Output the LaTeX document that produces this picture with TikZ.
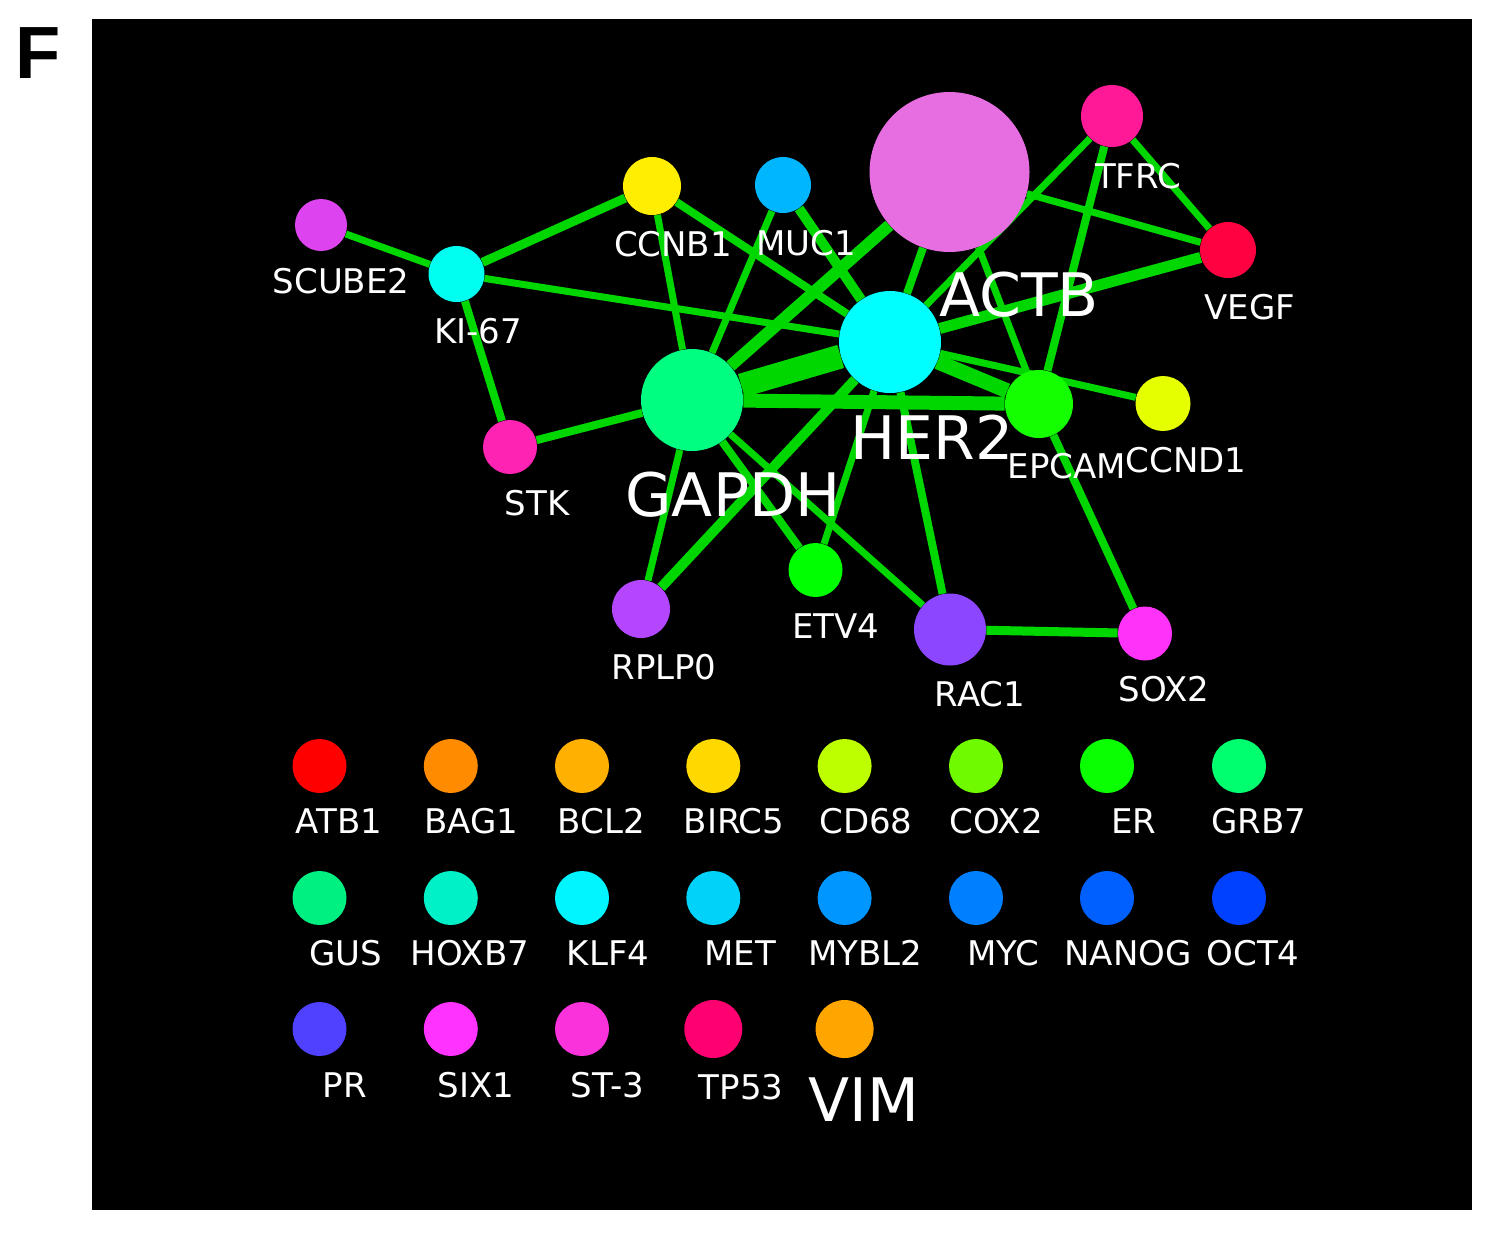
\documentclass[tikz,border=0pt]{standalone}
\usepackage{fontspec}
\setmainfont{DejaVu Sans}
\newfontfamily\panelfont{Liberation Sans}
\usetikzlibrary{backgrounds}

\definecolor{bondgreen}{RGB}{0,215,0}
% network nodes
\definecolor{cSCUBE}{RGB}{221,68,240}
\definecolor{cKI}{RGB}{0,255,240}
\definecolor{cCCNB}{RGB}{255,238,0}
\definecolor{cMUC}{RGB}{0,182,255}
\definecolor{cACTB}{RGB}{230,110,225}
\definecolor{cTFRC}{RGB}{255,25,150}
\definecolor{cVEGF}{RGB}{255,0,64}
\definecolor{cHER}{RGB}{0,255,255}
\definecolor{cGAPDH}{RGB}{0,255,128}
\definecolor{cEPCAM}{RGB}{20,255,0}
\definecolor{cCCND}{RGB}{230,255,0}
\definecolor{cSTK}{RGB}{255,35,180}
\definecolor{cRPLP}{RGB}{180,70,255}
\definecolor{cETV}{RGB}{0,255,0}
\definecolor{cRAC}{RGB}{140,70,255}
\definecolor{cSOX}{RGB}{255,50,250}
% legend
\definecolor{cATB}{RGB}{255,0,0}
\definecolor{cBAG}{RGB}{255,140,0}
\definecolor{cBCL}{RGB}{255,176,0}
\definecolor{cBIRC}{RGB}{255,216,0}
\definecolor{cCD}{RGB}{190,255,0}
\definecolor{cCOX}{RGB}{112,250,0}
\definecolor{cER}{RGB}{10,255,0}
\definecolor{cGRB}{RGB}{0,255,110}
\definecolor{cGUS}{RGB}{0,240,130}
\definecolor{cHOX}{RGB}{0,240,200}
\definecolor{cKLF}{RGB}{0,245,255}
\definecolor{cMET}{RGB}{0,210,250}
\definecolor{cMYBL}{RGB}{0,150,255}
\definecolor{cMYC}{RGB}{0,128,255}
\definecolor{cNANOG}{RGB}{0,96,255}
\definecolor{cOCT}{RGB}{0,64,255}
\definecolor{cPR}{RGB}{80,64,255}
\definecolor{cSIX}{RGB}{255,50,255}
\definecolor{cST}{RGB}{250,50,220}
\definecolor{cTP}{RGB}{255,0,112}
\definecolor{cVIM}{RGB}{255,165,0}

\begin{document}
\begin{tikzpicture}[x=0.5pt,y=-0.5pt,
  gene/.style={circle,inner sep=0pt,minimum size=#1},
  bond/.style={draw=bondgreen,line width=#1},
  lbl/.style={text=white,inner sep=0pt,font=\fontsize{17pt}{17pt}\selectfont},
  biglbl/.style={text=white,inner sep=0pt,font=\fontsize{30pt}{30pt}\selectfont}]
  \useasboundingbox (0,0) rectangle (1504,1233);
  \node[inner sep=0pt,font=\panelfont\bfseries\fontsize{37pt}{37pt}\selectfont] (panel) at (38.5,53.5) {F};

  % network
  \node[gene=26pt,fill=cSCUBE] (SCUBE2) at (321,225) {};
  \node[gene=28pt,fill=cKI] (KI67) at (456.5,274) {};
  \node[gene=29pt,fill=cCCNB] (CCNB1) at (652,186) {};
  \node[gene=28pt,fill=cMUC] (MUC1) at (783,185) {};
  \node[gene=80pt,fill=cACTB] (ACTB) at (949.5,172) {};
  \node[gene=31pt,fill=cTFRC] (TFRC) at (1112,116) {};
  \node[gene=28pt,fill=cVEGF] (VEGF) at (1228,250) {};
  \node[gene=51pt,fill=cHER] (HER2) at (890,342) {};
  \node[gene=51pt,fill=cGAPDH] (GAPDH) at (692,400) {};
  \node[gene=34pt,fill=cEPCAM] (EPCAM) at (1039,404) {};
  \node[gene=27.5pt,fill=cCCND] (CCND1) at (1163,403.5) {};
  \node[gene=27pt,fill=cSTK] (STK) at (510,447) {};
  \node[gene=29pt,fill=cRPLP] (RPLP0) at (641,609) {};
  \node[gene=27pt,fill=cETV] (ETV4) at (815.5,570) {};
  \node[gene=36pt,fill=cRAC] (RAC1) at (950,629.5) {};
  \node[gene=27pt,fill=cSOX] (SOX2) at (1145,633.5) {};

  \begin{scope}[on background layer]
    \fill[black] (92,19) rectangle (1472,1210);
    \draw[bond=3.5pt] (SCUBE2) -- (KI67);
    \draw[bond=4.5pt] (KI67) -- (CCNB1);
    \draw[bond=3.5pt] (KI67) -- (HER2);
    \draw[bond=4pt] (KI67) -- (STK);
    \draw[bond=4pt] (STK) -- (GAPDH);
    \draw[bond=3.5pt] (CCNB1) -- (GAPDH);
    \draw[bond=4pt] (CCNB1) -- (HER2);
    \draw[bond=3.5pt] (MUC1) -- (GAPDH);
    \draw[bond=5pt] (MUC1) -- (HER2);
    \draw[bond=6pt] (ACTB) -- (GAPDH);
    \draw[bond=4pt] (ACTB) -- (HER2);
    \draw[bond=3.5pt] (ACTB) -- (EPCAM);
    \draw[bond=3.5pt] (ACTB) -- (VEGF);
    \draw[bond=3.5pt] (TFRC) -- (HER2);
    \draw[bond=4pt] (TFRC) -- (EPCAM);
    \draw[bond=3.5pt] (TFRC) -- (VEGF);
    \draw[bond=5.5pt] (VEGF) -- (HER2);
    \draw[bond=12pt] (HER2) -- (GAPDH);
    \draw[bond=7pt] (GAPDH) -- (EPCAM);
    \draw[bond=7.5pt] (HER2) -- (EPCAM);
    \draw[bond=3.5pt] (HER2) -- (CCND1);
    \draw[bond=3.5pt] (HER2) -- (ETV4);
    \draw[bond=4pt] (HER2) -- (RAC1);
    \draw[bond=5pt] (HER2) -- (RPLP0);
    \draw[bond=3.5pt] (GAPDH) -- (RPLP0);
    \draw[bond=4pt] (GAPDH) -- (ETV4);
    \draw[bond=3.5pt] (GAPDH) -- (RAC1);
    \draw[bond=4pt] (EPCAM) -- (SOX2);
    \draw[bond=4.5pt] (RAC1) -- (SOX2);
  \end{scope}

  \node[lbl] (tSCUBE2) at (341,281) {SCUBE2};
  \node[lbl] (tKI67) at (478,331) {KI-67};
  \node[lbl] (tCCNB1) at (673,244) {CCNB1};
  \node[lbl] (tMUC1) at (806,243) {MUC1};
  \node[biglbl] (tACTB) at (1019,295) {ACTB};
  \node[lbl] (tTFRC) at (1138,176) {TFRC};
  \node[lbl] (tVEGF) at (1250,307) {VEGF};
  \node[biglbl] (tHER2) at (932,437) {HER2};
  \node[biglbl] (tGAPDH) at (733,495) {GAPDH};
  \node[lbl] (tEPCAM) at (1067,466) {EPCAM};
  \node[lbl] (tCCND1) at (1186,460) {CCND1};
  \node[lbl] (tSTK) at (537,503) {STK};
  \node[lbl] (tRPLP0) at (664,667) {RPLP0};
  \node[lbl] (tETV4) at (836,626) {ETV4};
  \node[lbl] (tRAC1) at (980,694) {RAC1};
  \node[lbl] (tSOX2) at (1164,689) {SOX2};

  % legend
  \node[gene=27pt,fill=cATB] (kATB1) at (319.5,766) {};
  \node[gene=27pt,fill=cBAG] (kBAG1) at (450.8,766) {};
  \node[gene=27pt,fill=cBCL] (kBCL2) at (582,766) {};
  \node[gene=27pt,fill=cBIRC] (kBIRC5) at (713.3,766) {};
  \node[gene=27pt,fill=cCD] (kCD68) at (844.6,766) {};
  \node[gene=27pt,fill=cCOX] (kCOX2) at (976,766) {};
  \node[gene=27pt,fill=cER] (kER) at (1107,766) {};
  \node[gene=27pt,fill=cGRB] (kGRB7) at (1239,766) {};
  \node[lbl] (tATB1) at (339,821.5) {ATB1};
  \node[lbl] (tBAG1) at (471,821.5) {BAG1};
  \node[lbl] (tBCL2) at (601.5,821.5) {BCL2};
  \node[lbl] (tBIRC5) at (734,821.5) {BIRC5};
  \node[lbl] (tCD68) at (866,821.5) {CD68};
  \node[lbl] (tCOX2) at (996,821.5) {COX2};
  \node[lbl] (tER) at (1134,821.5) {ER};
  \node[lbl] (tGRB7) at (1259,821.5) {GRB7};

  \node[gene=27pt,fill=cGUS] (kGUS) at (319.5,898) {};
  \node[gene=27pt,fill=cHOX] (kHOXB7) at (450.8,898) {};
  \node[gene=27pt,fill=cKLF] (kKLF4) at (582,898) {};
  \node[gene=27pt,fill=cMET] (kMET) at (713.3,898) {};
  \node[gene=27pt,fill=cMYBL] (kMYBL2) at (844.6,898) {};
  \node[gene=27pt,fill=cMYC] (kMYC) at (976,898) {};
  \node[gene=27pt,fill=cNANOG] (kNANOG) at (1107,898) {};
  \node[gene=27pt,fill=cOCT] (kOCT4) at (1239,898) {};
  \node[lbl] (tGUS) at (345.5,953) {GUS};
  \node[lbl] (tHOXB7) at (470,953) {HOXB7};
  \node[lbl] (tKLF4) at (608,953) {KLF4};
  \node[lbl] (tMET) at (740,953) {MET};
  \node[lbl] (tMYBL2) at (865,953) {MYBL2};
  \node[lbl] (tMYC) at (1003,953) {MYC};
  \node[lbl] (tNANOG) at (1128,953) {NANOG};
  \node[lbl] (tOCT4) at (1253,953) {OCT4};

  \node[gene=27pt,fill=cPR] (kPR) at (319.5,1029) {};
  \node[gene=27pt,fill=cSIX] (kSIX1) at (450.8,1029) {};
  \node[gene=27pt,fill=cST] (kST3) at (582,1029) {};
  \node[gene=29pt,fill=cTP] (kTP53) at (713.3,1029) {};
  \node[gene=29pt,fill=cVIM] (kVIM) at (844.6,1029) {};
  \node[lbl] (tPR) at (345,1085) {PR};
  \node[lbl] (tSIX1) at (476,1085) {SIX1};
  \node[lbl] (tST3) at (607.5,1085) {ST-3};
  \node[lbl] (tTP53) at (741,1087) {TP53};
  \node[biglbl] (tVIM) at (864,1100) {VIM};
\end{tikzpicture}
\end{document}
